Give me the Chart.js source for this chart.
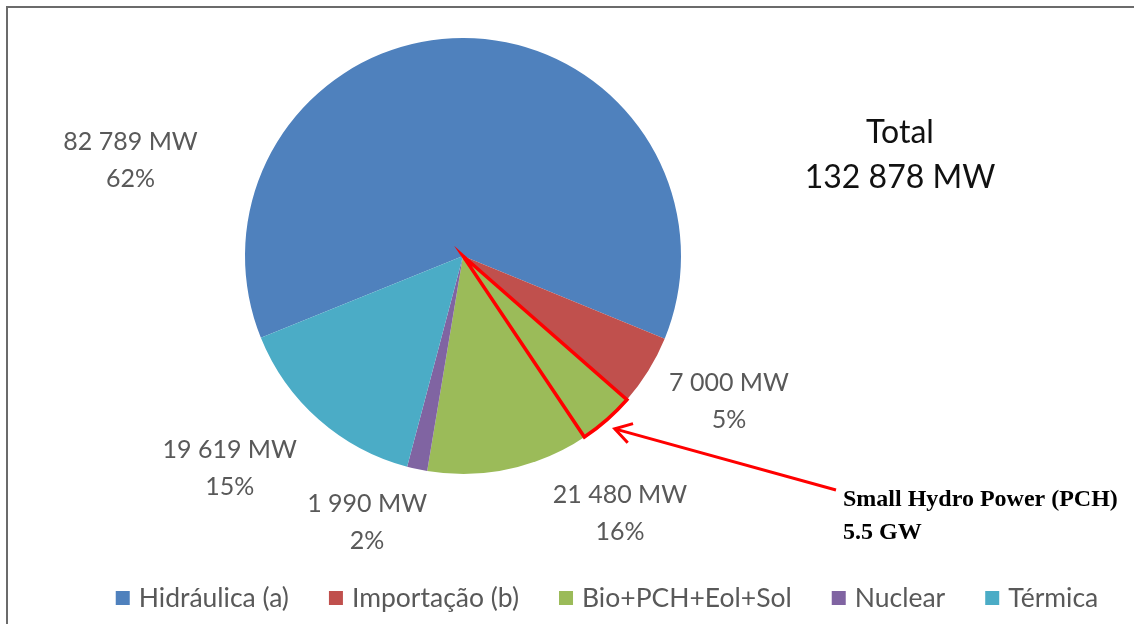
<!DOCTYPE html>
<html>
<head>
<meta charset="utf-8">
<script src="https://cdn.jsdelivr.net/npm/chart.js@4.4.1/dist/chart.umd.min.js"></script>
<style>
    html, body { margin: 0; padding: 0; background: #fff; }
    #wrap { position: relative; width: 1134px; height: 624px; }
</style>
</head>
<body>
<div id="wrap"><canvas id="capacity" width="1134" height="624"></canvas></div>
<script>
const sources = ["Hidráulica (a)", "Importação (b)", "Bio+PCH+Eol+Sol", "Nuclear", "Térmica"];
const capacityMW = [82789, 7000, 21480, 1990, 19619];
const percentLabels = ["62%", "5%", "16%", "2%", "15%"];
const sliceColors = ["#4F81BD", "#C0504D", "#9BBB59", "#8064A2", "#4BACC6"];
const pchMW = 5500;
const pchText = ["Small Hydro Power (PCH)", "5.5 GW"];
const totalMW = capacityMW.reduce((a, b) => a + b, 0);

const fmtMW = (v) => String(v).replace(/\B(?=(\d{3})+(?!\d))/g, " ") + " MW";

// where each data label sits, relative to pie centre, in radius units
const labelOffsets = [[-1.525, -0.44], [1.22, 0.665], [0.72, 1.18], [-0.44, 1.22], [-1.07, 0.97]];

const decorations = {
    id: "decorations",
    beforeDraw(chart) {
        const ctx = chart.ctx;
        ctx.save();
        ctx.strokeStyle = "#6b6b6b";
        ctx.lineWidth = 2;
        ctx.beginPath();
        ctx.moveTo(7, 624);
        ctx.lineTo(7, 7);
        ctx.lineTo(1134, 7);
        ctx.stroke();
        ctx.restore();
    },
    afterDatasetsDraw(chart) {
        const ctx = chart.ctx;
        const arcs = chart.getDatasetMeta(0).data;
        const cx = arcs[0].x, cy = arcs[0].y, r = arcs[0].outerRadius;
        ctx.save();

        // value labels
        ctx.fillStyle = "#595959";
        ctx.font = "25px Lato";
        ctx.textAlign = "center";
        ctx.textBaseline = "middle";
        arcs.forEach((arc, i) => {
            const x = cx + labelOffsets[i][0] * r;
            const y = cy + labelOffsets[i][1] * r;
            ctx.fillText(fmtMW(capacityMW[i]), x, y - 18);
            ctx.fillText(percentLabels[i], x, y + 19);
        });

        // total
        ctx.fillStyle = "#111";
        ctx.font = "32px Lato";
        ctx.fillText("Total", 900, 133);
        ctx.fillText(fmtMW(totalMW), 900, 178);

        // PCH wedge outline inside the green slice
        const green = arcs[2];
        const a0 = green.startAngle;
        const a1 = a0 + 2 * Math.PI * pchMW / totalMW;
        ctx.strokeStyle = "#ff0000";
        ctx.lineWidth = 3.5;
        ctx.lineJoin = "miter";
        ctx.beginPath();
        ctx.moveTo(cx, cy);
        ctx.arc(cx, cy, r, a0, a1);
        ctx.closePath();
        ctx.stroke();

        // arrow
        const am = (a0 + a1) / 2;
        const tipX = cx + Math.cos(am) * (r + 12);
        const tipY = cy + Math.sin(am) * (r + 12);
        const tailX = 836, tailY = 490;
        ctx.lineWidth = 3;
        ctx.beginPath();
        ctx.moveTo(tailX, tailY);
        ctx.lineTo(tipX, tipY);
        ctx.stroke();
        const dir = Math.atan2(tailY - tipY, tailX - tipX);
        ctx.beginPath();
        ctx.moveTo(tipX + Math.cos(dir - 0.55) * 19, tipY + Math.sin(dir - 0.55) * 19);
        ctx.lineTo(tipX, tipY);
        ctx.lineTo(tipX + Math.cos(dir + 0.55) * 19, tipY + Math.sin(dir + 0.55) * 19);
        ctx.stroke();

        ctx.fillStyle = "#000";
        ctx.font = "bold 24px 'Liberation Serif'";
        ctx.textAlign = "left";
        ctx.fillText(pchText[0], 843, 500);
        ctx.fillText(pchText[1], 843, 533);

        // legend
        ctx.font = "26.5px Lato";
        const box = 14, gap = 9, itemGap = 40;
        const widths = sources.map((s) => ctx.measureText(s).width);
        const total = widths.reduce((a, w) => a + box + gap + w, 0) + itemGap * (sources.length - 1);
        let x = 607 - total / 2;
        const ly = 598;
        sources.forEach((s, i) => {
            ctx.fillStyle = sliceColors[i];
            ctx.fillRect(x, ly - box / 2, box, box);
            x += box + gap;
            ctx.fillStyle = "#595959";
            ctx.fillText(s, x, ly);
            x += widths[i] + itemGap;
        });

        ctx.restore();
    },
};

const capacityConfig = {
    type: "pie",
    data: {
        labels: sources,
        datasets: [
            {
                data: capacityMW,
                backgroundColor: sliceColors,
                borderWidth: 0,
            },
        ],
    },
    options: {
        responsive: false,
        animation: false,
        devicePixelRatio: 1,
        rotation: 248,
        layout: {
            padding: { left: 245, right: 453, top: 38, bottom: 150 },
        },
        plugins: {
            legend: { display: false },
            tooltip: { enabled: false },
        },
    },
    plugins: [decorations],
};

var capacityChart = new Chart(document.getElementById("capacity"), capacityConfig);
</script>
</body>
</html>
